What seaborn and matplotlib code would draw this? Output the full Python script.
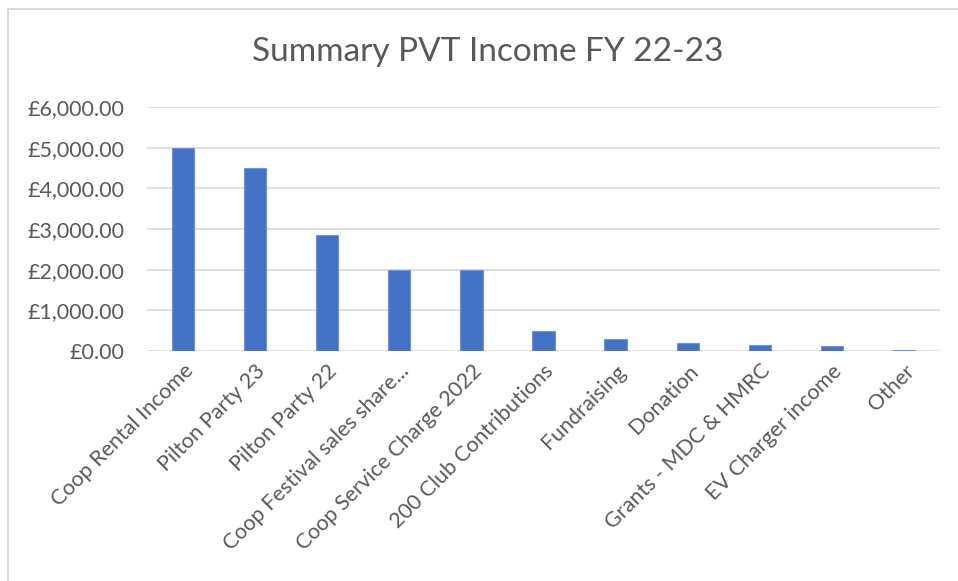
import matplotlib
matplotlib.use("Agg")
import matplotlib.pyplot as plt
import matplotlib.ticker as mticker
from matplotlib.patches import Rectangle
import seaborn as sns
import pandas as pd

categories = ["Coop Rental Income", "Pilton Party 23", "Pilton Party 22",
              "Coop Festival sales share...", "Coop Service Charge 2022",
              "200 Club Contributions", "Fundraising", "Donation",
              "Grants - MDC & HMRC", "EV Charger income", "Other"]
values = [5000, 4490, 2850, 2000, 1985, 500, 290, 200, 150, 125, 15]
y_ticks = [0, 1000, 2000, 3000, 4000, 5000, 6000]
title = "Summary PVT Income FY 22-23"

sns.set_theme(style="white")
plt.rcParams['font.family'] = ['Lato', 'DejaVu Sans']

df = pd.DataFrame({"cat": categories, "val": values})

fig = plt.figure(figsize=(9.58, 5.81), dpi=100)
ax = fig.add_axes([147/958, 1 - 351/581, (940-147)/958, (351-107)/581])
ax.set_axisbelow(True)

sns.barplot(data=df, x="cat", y="val", color="#4472C4", width=0.31,
            saturation=1, ax=ax, edgecolor="#7096d8", linewidth=0.8)

ax.set_ylim(0, 6000)
ax.set_xlim(-0.5, len(categories) - 0.5)
ax.set_yticks(y_ticks)
ax.yaxis.set_major_formatter(mticker.FuncFormatter(lambda v, p: f"£{v:,.2f}"))
ax.grid(axis="y", color="#d9d9d9", linewidth=1.2)
ax.grid(axis="x", visible=False)
for s in ax.spines.values():
    s.set_visible(False)
ax.set_xlabel("")
ax.set_ylabel("")
ax.tick_params(axis="both", length=0, colors="#595959", labelsize=15.5)
ax.tick_params(axis="y", pad=16)
ax.set_xticks(range(len(categories)))
ax.set_xticklabels(categories, rotation=45, ha="right", va="top",
                   rotation_mode="anchor")
ax.tick_params(axis="x", pad=7)

fig.text(488/958, 1 - 52/581, title, ha="center", va="center",
         fontsize=24, color="#595959", fontweight="normal")

fig.patches.append(Rectangle((8/958, -0.1), 1.2, 1 - 9/581 + 0.1,
                             transform=fig.transFigure, fill=False,
                             edgecolor="#d9d9d9", linewidth=1.5, zorder=0))

fig.savefig("out.png", dpi=100)
